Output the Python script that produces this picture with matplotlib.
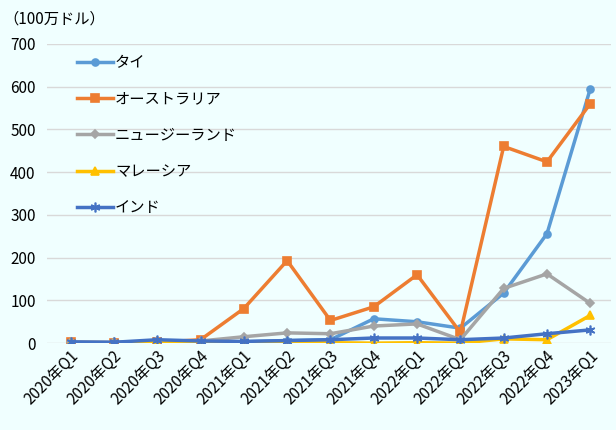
import numpy as np
import matplotlib
matplotlib.use("Agg")
import matplotlib.pyplot as plt

plt.rcParams['font.family'] = ['Noto Sans CJK JP', 'DejaVu Sans']

quarters = ['2020年Q1', '2020年Q2', '2020年Q3', '2020年Q4',
            '2021年Q1', '2021年Q2', '2021年Q3', '2021年Q4',
            '2022年Q1', '2022年Q2', '2022年Q3', '2022年Q4', '2023年Q1']

thai = [0, 1, 3, 3, 3, 6, 8, 57, 50, 35, 117, 256, 595]
australia = [2, 1, 2, 8, 81, 193, 53, 85, 160, 25, 460, 424, 560]
new_zealand = [2, 2, 4, 5, 15, 24, 22, 40, 45, 8, 128, 162, 93]
malaysia = [1, 0, 1, 0, 0, 0, 1, 0, 1, 0, 10, 8, 65]
india = [3, 2, 8, 5, 4, 6, 8, 12, 12, 8, 12, 22, 31]

series = [
    ('タイ', thai, '#5B9BD5', 'o', 5),
    ('オーストラリア', australia, '#ED7D31', 's', 6),
    ('ニュージーランド', new_zealand, '#A5A5A5', 'D', 4),
    ('マレーシア', malaysia, '#FFC000', '^', 6),
    ('インド', india, '#4472C4', (6, 2, 0), 7),
]

bg = '#F0FFFF'
fig = plt.figure(figsize=(6.16, 4.30), dpi=100, facecolor=bg)
ax = fig.add_axes([0.076, 0.202, 0.916, 0.696], facecolor=bg)

x = np.arange(len(quarters))
for name, vals, color, marker, ms in series:
    ax.plot(x, vals, color=color, lw=2.5, marker=marker, ms=ms,
            mec=color, mfc=color, mew=1.2, label=name, zorder=3)

ax.set_xlim(-0.55, 12.48)
ax.set_ylim(0, 700)
ax.set_yticks(range(0, 701, 100))
ax.grid(axis='y', color='#D9D9D9', lw=1)
ax.set_axisbelow(True)
for s in ax.spines.values():
    s.set_visible(False)
ax.tick_params(length=0)
ax.tick_params(axis='y', labelsize=11, pad=8)
ax.set_xticks(x)
ax.set_xticklabels(quarters, rotation=45, ha='right', rotation_mode='anchor', fontsize=11)

leg = ax.legend(loc='upper left', bbox_to_anchor=(0.03, 1.01), frameon=False,
                fontsize=11, labelspacing=1.25, handlelength=2.3, handletextpad=0.15)

fig.text(0.005, 0.955, '（100万ドル）', fontsize=11, va='center')

fig.savefig('out.png', dpi=100, facecolor=bg)
